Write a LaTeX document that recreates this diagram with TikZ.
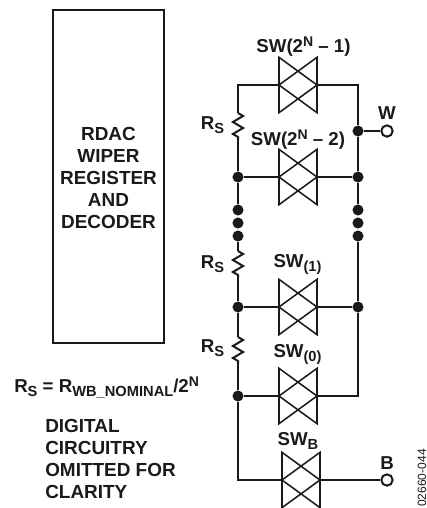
\documentclass[tikz,border=0pt]{standalone}
\usepackage{fontspec}
\setmainfont{Liberation Sans}
\usetikzlibrary{calc}
\usetikzlibrary{decorations.pathmorphing}
\definecolor{BLACK}{HTML}{1A1A1A}
\newcommand{\dn}[1]{\raisebox{-3.2pt}{\fontsize{11}{11}\selectfont #1}}
\newcommand{\up}[1]{\raisebox{4pt}{\fontsize{10.5}{10.5}\selectfont #1}}
\tikzset{
    wire/.style={BLACK, line width=1.5pt},
    gate/.style={BLACK, line width=1.15pt, line join=miter},
    swbox/.style={minimum width=28.5pt, minimum height=41.5pt, inner sep=0pt, outer sep=0pt},
    junction/.style={circle, fill=BLACK, minimum size=8.3pt, inner sep=0pt},
    terminal/.style={circle, draw=BLACK, fill=white, line width=1.5pt, minimum size=8.5pt, inner sep=0pt},
    zig/.style={wire, decorate, decoration={zigzag, segment length=9pt, amplitude=3.8pt}},
    lbl/.style={font=\bfseries\fontsize{14}{14}\selectfont, text=BLACK, inner sep=0pt, anchor=base},
    blocktext/.style={font=\bfseries\fontsize{14.2}{16.5}\selectfont, text=BLACK, align=center, inner sep=0pt}
}
\begin{document}
\begin{tikzpicture}[x=0.75pt, y=-0.75pt]
    \useasboundingbox (0,0) rectangle (427,508);
    % decoder block
    \node[draw=BLACK, line width=1.5pt, minimum width=83.25pt, minimum height=249.75pt, inner sep=0pt] (decoder) at (108.5,176.5) {};
    \node[blocktext] (decodertext) at (108.5,177.5) {RDAC\\WIPER\\REGISTER\\AND\\DECODER};
    % switches
    \foreach \name/\x/\y in {swtop/298/85, swnext/298/177, swone/298/307, swzero/298/396, swb/301/480} {
        \node[swbox] (\name) at (\x,\y) {};
        \draw[gate] (\name.north west) -- (\name.east) -- (\name.south west) -- cycle;
        \draw[gate] (\name.north east) -- (\name.west) -- (\name.south east) -- cycle;
    }
    % rail points
    \coordinate (lefttop) at (238,85);
    \coordinate (righttop) at (358,85);
    \coordinate (rightzero) at (358,396);
    \coordinate (leftb) at (238,480);
    \coordinate (rsatop) at (238,113);
    \coordinate (rsabot) at (238,140);
    \coordinate (rsbtop) at (238,251);
    \coordinate (rsbbot) at (238,278);
    \coordinate (rsctop) at (238,337);
    \coordinate (rscbot) at (238,364);
    \node[junction] (jw) at (358,131) {};
    \node[junction] (jltwo) at (238,177) {};
    \node[junction] (jrtwo) at (358,177) {};
    \node[junction] (jlone) at (238,307) {};
    \node[junction] (jrone) at (358,307) {};
    \node[junction] (jlzero) at (238,396) {};
    \foreach \y [count=\i] in {210,223,236} {
        \node[junction] (dl\i) at (238,\y) {};
        \node[junction] (dr\i) at (358,\y) {};
    }
    \node[terminal] (tw) at (387,131) {};
    \node[terminal] (tb) at (387,480) {};
    % left rail
    \draw[wire] (swtop.west) -- (lefttop) -- (rsatop);
    \draw[zig] (rsatop) -- (rsabot);
    \draw[wire] (rsabot) -- (jltwo) -- (dl1);
    \draw[wire] (dl3) -- (rsbtop);
    \draw[zig] (rsbtop) -- (rsbbot);
    \draw[wire] (rsbbot) -- (jlone) -- (rsctop);
    \draw[zig] (rsctop) -- (rscbot);
    \draw[wire] (rscbot) -- (jlzero) -- (leftb) -- (swb.west);
    % right rail
    \draw[wire] (swtop.east) -- (righttop) -- (jw) -- (jrtwo) -- (dr1);
    \draw[wire] (dr3) -- (jrone) -- (rightzero) -- (swzero.east);
    % cross wires
    \draw[wire] (jltwo) -- (swnext.west);
    \draw[wire] (swnext.east) -- (jrtwo);
    \draw[wire] (jlone) -- (swone.west);
    \draw[wire] (swone.east) -- (jrone);
    \draw[wire] (jlzero) -- (swzero.west);
    \draw[wire] (swb.east) -- (tb);
    \draw[wire] (jw) -- (tw);
    % labels
    \node[lbl] (swtoplabel) at (303.5,52) {SW(2\up{N} – 1)};
    \node[lbl] (swnextlabel) at (298,145) {SW(2\up{N} – 2)};
    \node[lbl] (swonelabel) at (297.5,267) {SW\dn{(1)}};
    \node[lbl] (swzerolabel) at (297.5,357) {SW\dn{(0)}};
    \node[lbl] (swblabel) at (298,445) {SW\dn{B}};
    \node[lbl] (wlabel) at (387,119) {W};
    \node[lbl] (blabel) at (387,469) {B};
    \node[lbl] (rsa) at (212.5,129) {R\dn{S}};
    \node[lbl] (rsb) at (212.5,268) {R\dn{S}};
    \node[lbl] (rsc) at (212.5,352) {R\dn{S}};
    \node[lbl, anchor=base west] (formula) at (14,392) {R\dn{S} = R\dn{WB\_NOMINAL}/2\up{N}};
    \node[blocktext, anchor=north west, align=left] (note) at (45,419) {DIGITAL\\CIRCUITRY\\OMITTED FOR\\CLARITY};
    \node[font=\fontsize{9}{9}\selectfont, text=BLACK, rotate=90, inner sep=0pt] (code) at (422,478) {02660-044};
\end{tikzpicture}
\end{document}
